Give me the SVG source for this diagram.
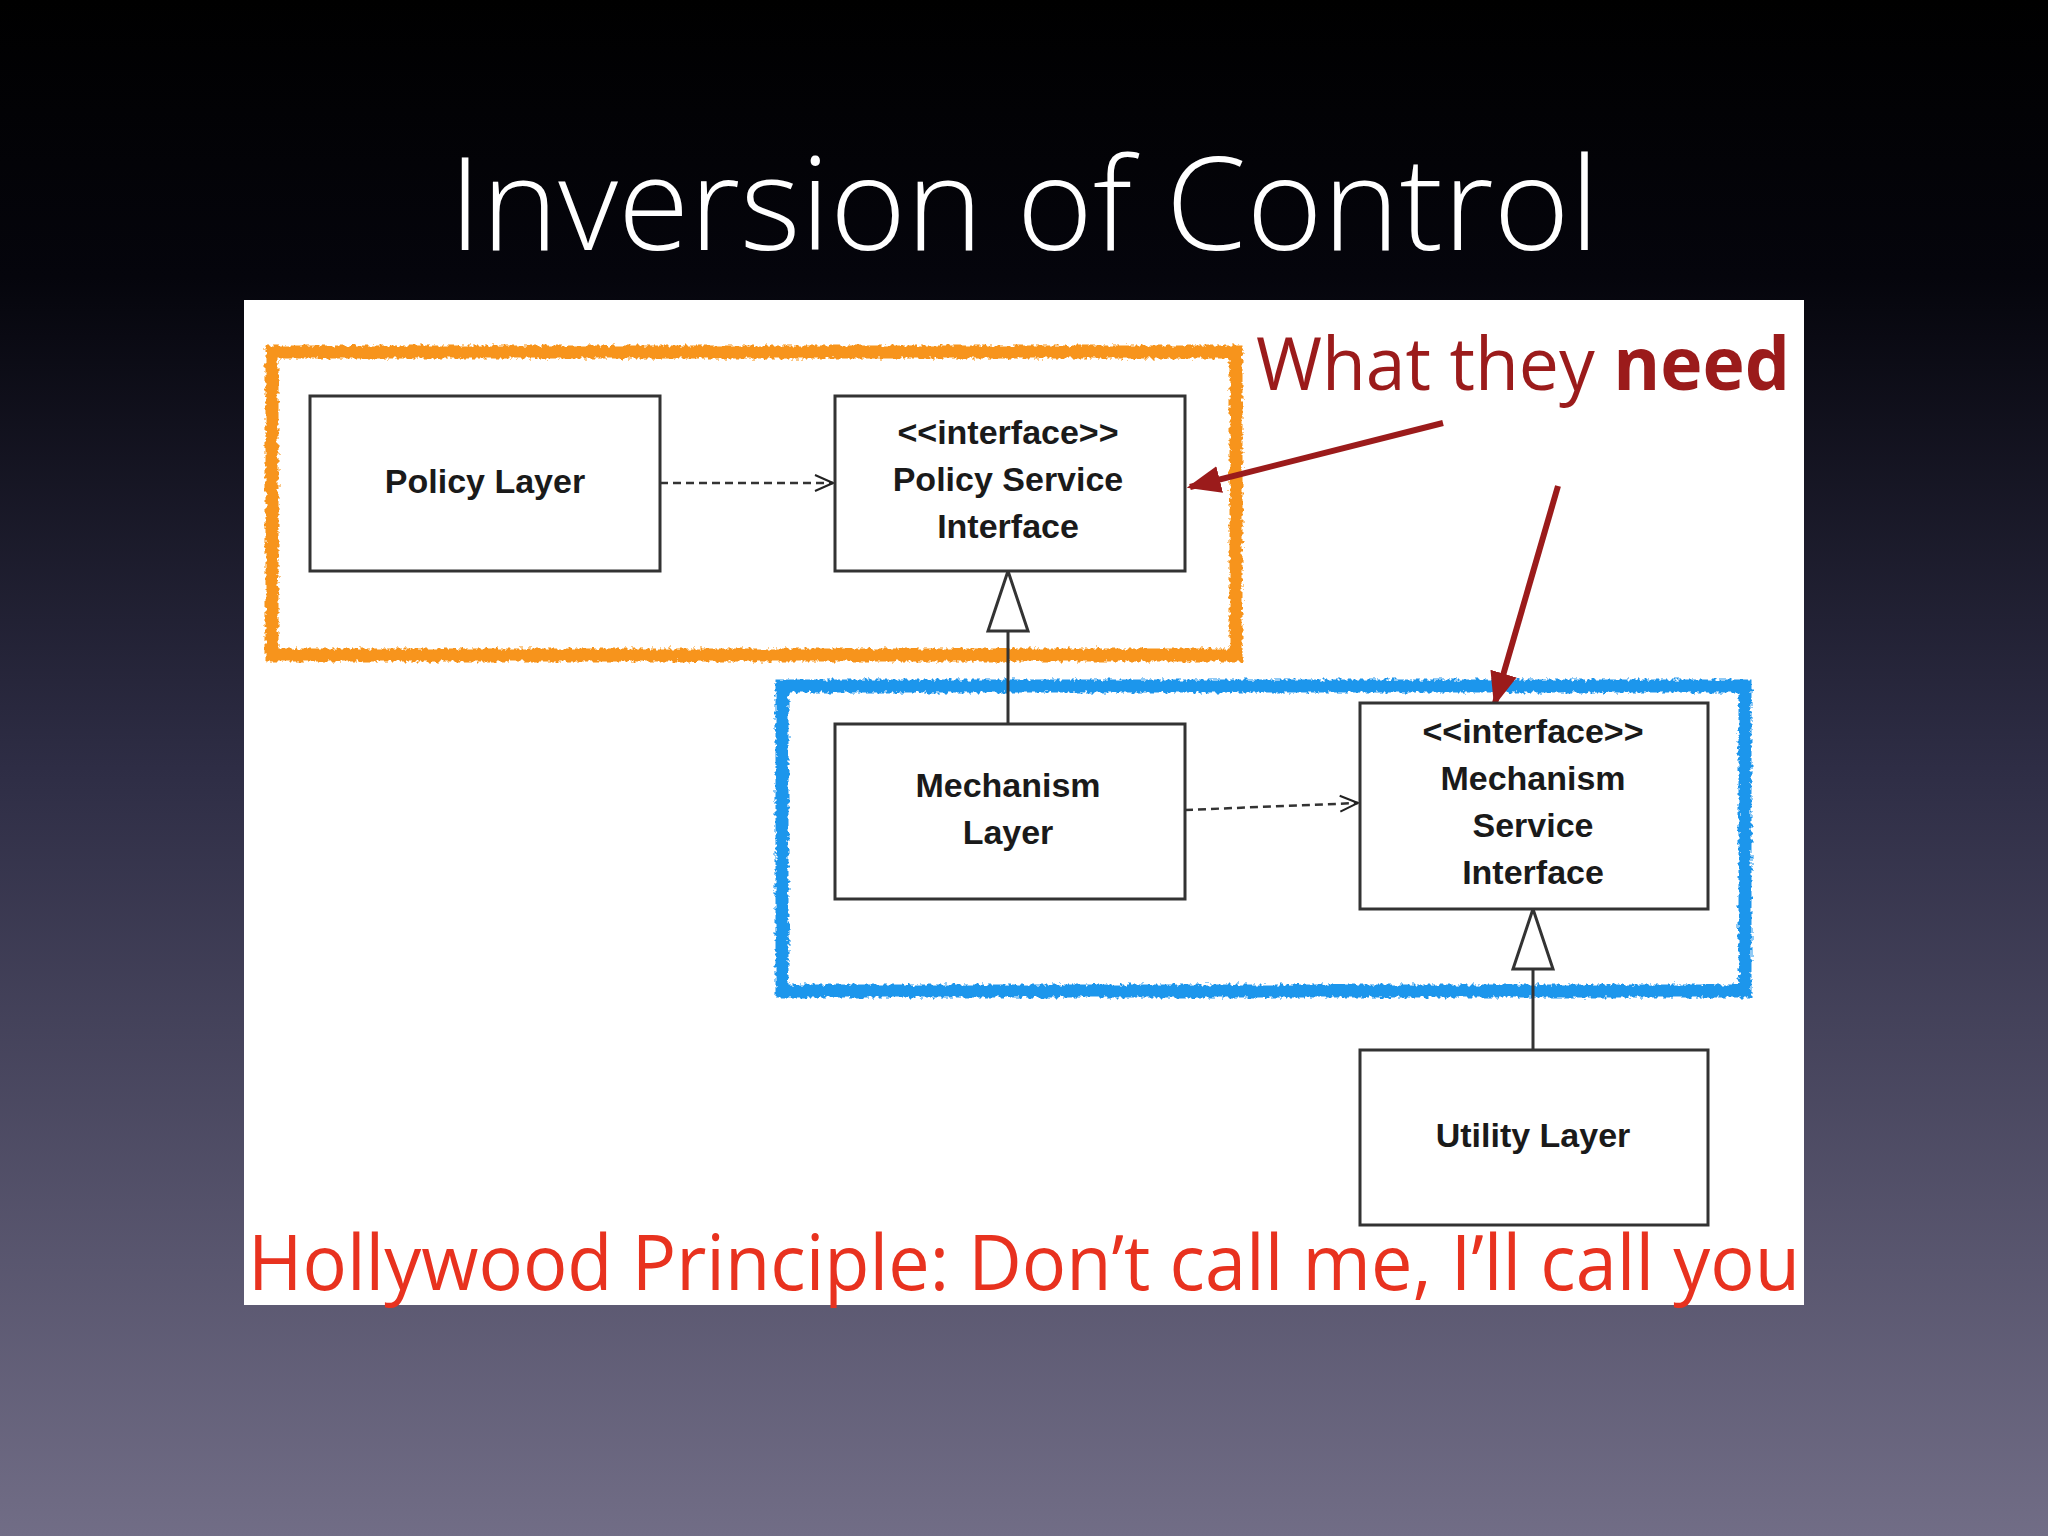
<svg xmlns="http://www.w3.org/2000/svg" width="2048" height="1536" viewBox="0 0 2048 1536">
<defs>
<linearGradient id="bg" x1="0" y1="0" x2="0" y2="1">
<stop offset="0" stop-color="#000000"/><stop offset="0.18" stop-color="#05050c"/><stop offset="0.5" stop-color="#2e2d45"/><stop offset="1" stop-color="#716d86"/>
</linearGradient>
<filter id="rough" x="-5%" y="-5%" width="110%" height="110%">
<feTurbulence type="fractalNoise" baseFrequency="0.25" numOctaves="2" seed="3"/>
<feDisplacementMap in="SourceGraphic" scale="7"/>
</filter>
<marker id="open" viewBox="0 0 20 20" refX="19" refY="10" markerWidth="20" markerHeight="20" markerUnits="userSpaceOnUse" orient="auto">
<path d="M1,2 L19,10 L1,18" fill="none" stroke="#222" stroke-width="2"/>
</marker>
<marker id="red" viewBox="0 0 20 20" refX="18" refY="10" markerWidth="34" markerHeight="34" markerUnits="userSpaceOnUse" orient="auto">
<path d="M0,2 L20,10 L0,18 Z" fill="#9b1b1b"/>
</marker>
<style>
.box{fill:#fff;stroke:#333;stroke-width:3}
.nt{font-family:"Liberation Sans",Arial,sans-serif;font-weight:bold;font-size:34px;fill:#1a1a1a;text-anchor:middle}
.dash{stroke:#333;stroke-width:2.5;stroke-dasharray:8,5;fill:none}
.ln{stroke:#333;stroke-width:3;fill:none}
.tri{fill:#fff;stroke:#333;stroke-width:3}
</style>
</defs>
<rect width="2048" height="1536" fill="url(#bg)"/>
<text x="1024" y="250" font-family="'Open Sans','Liberation Sans',sans-serif" font-weight="300" font-size="130" fill="#fff" text-anchor="middle">Inversion of Control</text>
<rect x="244" y="300" width="1560" height="1005" fill="#fff"/>
<g id="groups" filter="url(#rough)">
<rect x="272" y="352" width="964" height="303" fill="none" stroke="#f7941d" stroke-width="13"/>
<rect x="782" y="686" width="963" height="305" fill="none" stroke="#1e96ec" stroke-width="13"/>
</g>
<g id="connectors">
<line class="dash" x1="660" y1="483" x2="833" y2="483" marker-end="url(#open)"/>
<line class="dash" x1="1185" y1="810" x2="1358" y2="803" marker-end="url(#open)"/>
<line class="ln" x1="1008" y1="724" x2="1008" y2="631"/>
<path class="tri" d="M1008,571 L988,631 L1028,631 Z"/>
<line class="ln" x1="1533" y1="1050" x2="1533" y2="969"/>
<path class="tri" d="M1533,909 L1513,969 L1553,969 Z"/>
<line x1="1443" y1="423" x2="1190" y2="487" stroke="#9b1b1b" stroke-width="6" marker-end="url(#red)"/>
<line x1="1558" y1="486" x2="1495" y2="703" stroke="#9b1b1b" stroke-width="6" marker-end="url(#red)"/>
</g>
<g id="policy"><rect class="box" x="310" y="396" width="350" height="175"/><text class="nt" x="485" y="493">Policy Layer</text></g>
<g id="psi"><rect class="box" x="835" y="396" width="350" height="175"/>
<text class="nt" x="1008" y="444">&lt;&lt;interface&gt;&gt;</text><text class="nt" x="1008" y="491">Policy Service</text><text class="nt" x="1008" y="538">Interface</text></g>
<g id="mech"><rect class="box" x="835" y="724" width="350" height="175"/>
<text class="nt" x="1008" y="797">Mechanism</text><text class="nt" x="1008" y="844">Layer</text></g>
<g id="msi"><rect class="box" x="1360" y="703" width="348" height="206"/>
<text class="nt" x="1533" y="743">&lt;&lt;interface&gt;&gt;</text><text class="nt" x="1533" y="790">Mechanism</text><text class="nt" x="1533" y="837">Service</text><text class="nt" x="1533" y="884">Interface</text></g>
<g id="utility"><rect class="box" x="1360" y="1050" width="348" height="175"/><text class="nt" x="1533" y="1147">Utility Layer</text></g>
<text x="1256" y="390" font-family="'Open Sans','Liberation Sans',sans-serif" font-size="74" fill="#9b1b1b" textLength="534" lengthAdjust="spacingAndGlyphs">What they <tspan font-weight="bold">need</tspan></text>
<text x="248" y="1290" font-family="'Open Sans','Liberation Sans',sans-serif" font-size="76" fill="#e8321f" textLength="1552" lengthAdjust="spacingAndGlyphs">Hollywood Principle: Don’t call me, I’ll call you</text>
</svg>
